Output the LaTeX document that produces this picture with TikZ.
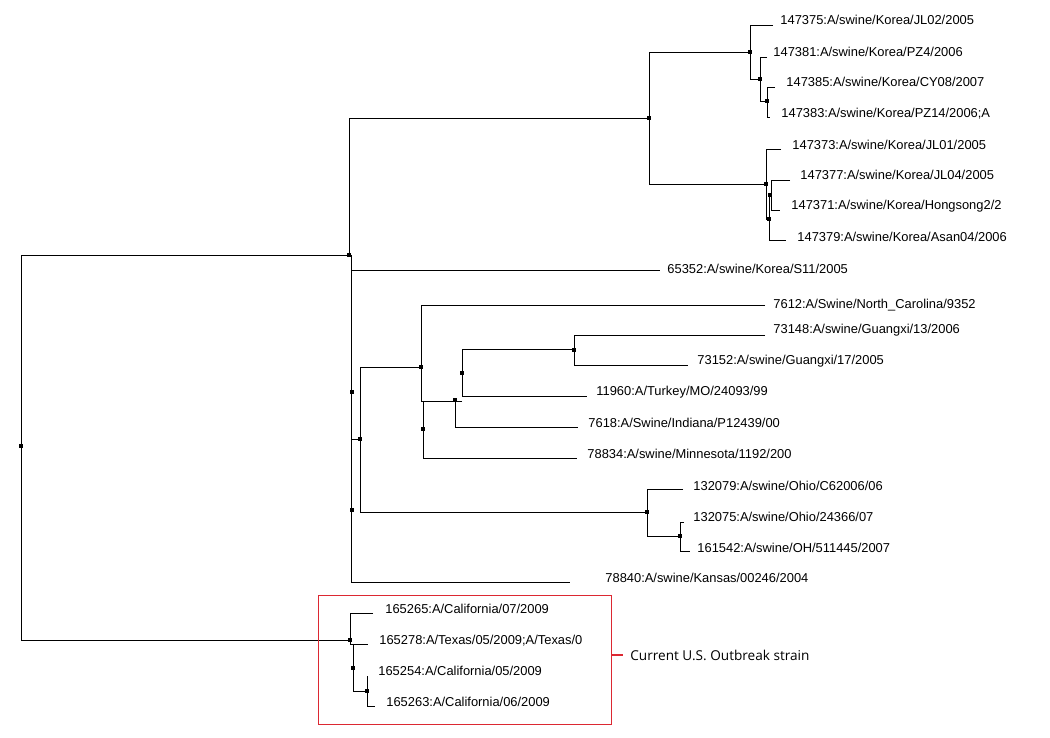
\documentclass[tikz,border=0pt]{standalone}
\usepackage{fontspec}
\setmainfont{Liberation Sans}
\newfontfamily\outfont{Open Sans}
\definecolor{boxred}{RGB}{220,40,50}
\begin{document}
\begin{tikzpicture}[x=1pt,y=-1pt,line width=0.8pt,
  lab/.style={anchor=west,inner sep=0pt,font=\fontsize{12.9}{12.9}\selectfont},
  dot/.style={fill=black,minimum size=4pt,inner sep=0pt,draw=none,rectangle}]
\useasboundingbox (0,0) rectangle (1050,738);
% root
\draw (350,255) -| (21,640) -- (350,640);
\node[dot] at (21,446) {};
% upper backbone
\draw (650,118) -- (349,118) -- (349,255);
\draw (351,255) -- (351,582);
\node[dot] at (349,255) {};
\node[dot] at (352,392) {};
\node[dot] at (352,510) {};
\draw (351,270) -- (660,270);
\node[lab] (l65352) at (667,269) {65352:A/swine/Korea/S11/2005};
\draw (351,582) -- (570,582);
\node[lab] (l78840) at (605,578) {78840:A/swine/Kansas/00246/2004};
\draw (351,439) -- (360,439);
% Korea clade
\draw (750,52) -| (649,184) -- (766,184);
\node[dot] at (649,118) {};
\draw (773,25) -| (750,79) -- (760,79);
\node[dot] at (750,52) {};
\node[lab] (k1) at (780,20) {147375:A/swine/Korea/JL02/2005};
\draw (767,57) -| (760,101) -- (767,101);
\node[dot] at (760,79) {};
\node[lab] (k2) at (773,52) {147381:A/swine/Korea/PZ4/2006};
\draw (775,87) -| (767,117) -- (770,117);
\node[dot] at (767,101) {};
\node[lab] (k3) at (786,82) {147385:A/swine/Korea/CY08/2007};
\node[lab] (k4) at (781,114) {147383:A/swine/Korea/PZ14/2006;A};
\draw (781,149) -| (766,219) -- (769,219);
\node[dot] at (766,184) {};
\draw (771,195) |- (769,195) -- (769,240) -- (786,240);
\draw (790,180) -| (771,210) -- (780,210);
\node[dot] at (770,195) {};
\node[dot] at (769,219) {};
\node[lab] (k5) at (792,145) {147373:A/swine/Korea/JL01/2005};
\node[lab] (k6) at (800,175) {147377:A/swine/Korea/JL04/2005};
\node[lab] (k7) at (791,206) {147371:A/swine/Korea/Hongsong2/2};
\node[lab] (k8) at (797,237) {147379:A/swine/Korea/Asan04/2006};
% middle clade
\draw (421,367) -| (360,512) -- (647,512);
\node[dot] at (360,439) {};
\draw (765,305) -| (421,401) -- (423,401) -- (423,458) -- (577,458);
\node[dot] at (421,367) {};
\node[dot] at (423,429) {};
\draw (423,401) -- (455,401);
\node[lab] (n7612) at (773,305) {7612:A/Swine/North\_Carolina/9352};
\node[lab] (n78834) at (587,454) {78834:A/swine/Minnesota/1192/200};
\draw (462,401) -| (455,427) -- (578,427);
\node[dot] at (455,400) {};
\node[lab] (n7618) at (588,423) {7618:A/Swine/Indiana/P12439/00};
\draw (574,349) -| (462,396) -- (587,396);
\node[dot] at (462,373) {};
\node[lab] (n11960) at (596,392) {11960:A/Turkey/MO/24093/99};
\draw (765,335) -| (574,365) -- (688,365);
\node[dot] at (574,350) {};
\node[lab] (n73148) at (773,330) {73148:A/swine/Guangxi/13/2006};
\node[lab] (n73152) at (697,361) {73152:A/swine/Guangxi/17/2005};
% Ohio
\draw (683,489) -| (647,536) -- (680,536);
\node[dot] at (647,512) {};
\draw (684,522) -| (680,551) -- (690,551);
\node[dot] at (680,536) {};
\node[lab] (o1) at (693,486) {132079:A/swine/Ohio/C62006/06};
\node[lab] (o2) at (693,517) {132075:A/swine/Ohio/24366/07};
\node[lab] (o3) at (697,548) {161542:A/swine/OH/511445/2007};
% 2009 clade
\draw (373,613) -| (350,640);
\draw (350,640) -- (350,644) -- (353,644) -- (353,691) -- (367,691);
\draw (353,644) -- (368,644);
\node[dot] at (350,640) {};
\node[dot] at (353,668) {};
\draw (367,676) -- (367,706) -- (375,706);
\node[dot] at (367,691) {};
\node[lab] (c1) at (385,609) {165265:A/California/07/2009};
\node[lab] (c2) at (379,641) {165278:A/Texas/05/2009;A/Texas/0};
\node[lab] (c3) at (378,671) {165254:A/California/05/2009};
\node[lab] (c4) at (386,702) {165263:A/California/06/2009};
\node[draw=boxred,line width=1.2pt,minimum width=293pt,minimum height=129pt,anchor=north west,inner sep=0pt] (box) at (318,595) {};
\coordinate (ls) at (611,655);
\coordinate (le) at (623,655);
\draw[boxred,line width=1.2pt] (ls) -- (le);
\node[anchor=west,inner sep=0pt,font=\outfont\fontsize{13.6}{13.6}\selectfont] (out) at ([xshift=7pt]le) {Current U.S. Outbreak strain};
\end{tikzpicture}
\end{document}
